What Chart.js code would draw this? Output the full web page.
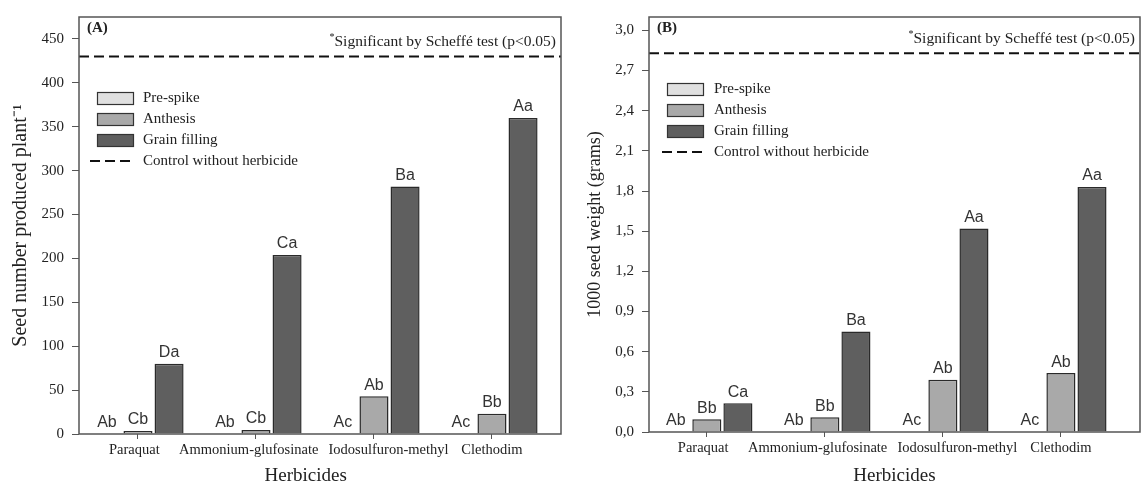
<!DOCTYPE html>
<html>
<head>
<meta charset="utf-8">
<script src="https://cdn.jsdelivr.net/npm/chart.js@4.4.1/dist/chart.umd.min.js"></script>
<style>
  html, body { margin: 0; padding: 0; background: #fff; }
  .panel { position: absolute; top: 0; height: 486px; }
  #wrapA { left: 0; width: 580px; }
  #wrapB { left: 580px; width: 561px; }
</style>
</head>
<body>
<div class="panel" id="wrapA"><canvas id="chartA"></canvas></div>
<div class="panel" id="wrapB"><canvas id="chartB"></canvas></div>
<script>
var herbicides = ['Paraquat', 'Ammonium-glufosinate', 'Iodosulfuron-methyl', 'Clethodim']
var stages = ['Pre-spike', 'Anthesis', 'Grain filling']
var stageColors = ['#e0e0e0', '#a9a9a9', '#5f5f5f']
var controlLabel = 'Control without herbicide'
var sigNote = 'Significant by Scheffé test (p<0.05)'

// (A) seed number per plant
var seedPreSpike = [0, 0, 0, 0]
var seedAnthesis = [3.5, 4.5, 43, 23]
var seedGrainFilling = [80, 204, 282, 360]
var seedControl = 430
var seedLetters = [['Ab', 'Ab', 'Ac', 'Ac'], ['Cb', 'Cb', 'Ab', 'Bb'], ['Da', 'Ca', 'Ba', 'Aa']]
var seedTicks = [0, 50, 100, 150, 200, 250, 300, 350, 400, 450]

// (B) 1000 seed weight
var weightPreSpike = [0, 0, 0, 0]
var weightAnthesis = [0.095, 0.11, 0.39, 0.44]
var weightGrainFilling = [0.215, 0.75, 1.52, 1.83]
var weightControl = 2.83
var weightLetters = [['Ab', 'Ab', 'Ac', 'Ac'], ['Bb', 'Bb', 'Ab', 'Ab'], ['Ca', 'Ba', 'Aa', 'Aa']]
var weightTicks = [0, 0.3, 0.6, 0.9, 1.2, 1.5, 1.8, 2.1, 2.4, 2.7, 3.0]

var SERIF = '"Liberation Serif", "Times New Roman", serif'
var SANS = '"Liberation Sans", Arial, sans-serif'
var TEXT = '#222'
var EN = '\u2002'

// the original figure nudges some category labels off their tick; en spaces do the same here
function nudged(i){
  var h = herbicides[i]
  if (i === 0) return h + EN
  if (i === 1) return h + EN + EN
  if (i === 2) return EN + EN + EN + EN + h
  return h
}

function points(values){
  return values.map(function(v, i){ return { x: i, y: v } })
}

// draws frame, control line, letters, legend and panel notes
var extrasPlugin = {
  id: 'extras',
  afterDatasetsDraw: function(chart){
    var o = chart.options.plugins.extras
    var ctx = chart.ctx
    var a = chart.chartArea
    var y = chart.scales.y
    ctx.save()

    // letters above bars
    ctx.font = '16px ' + SANS
    ctx.fillStyle = '#333'
    ctx.textAlign = 'center'
    ctx.textBaseline = 'bottom'
    chart.data.datasets.forEach(function(ds, di){
      chart.getDatasetMeta(di).data.forEach(function(bar, j){
        ctx.fillText(o.letters[di][j], bar.x, bar.y - 3)
      })
    })

    // control line
    var cy = y.getPixelForValue(o.control)
    ctx.strokeStyle = '#111'
    ctx.lineWidth = 2
    ctx.setLineDash([10, 5])
    ctx.beginPath()
    ctx.moveTo(a.left, cy)
    ctx.lineTo(a.right, cy)
    ctx.stroke()

    // legend
    var lg = o.legend
    ctx.font = '15px ' + SERIF
    ctx.textAlign = 'left'
    ctx.textBaseline = 'middle'
    stages.forEach(function(s, i){
      var ry = lg.y + i * 21
      ctx.setLineDash([])
      ctx.lineWidth = 1.2
      ctx.fillStyle = stageColors[i]
      ctx.fillRect(lg.x, ry - 6, 36, 12)
      ctx.strokeStyle = '#333'
      ctx.strokeRect(lg.x + 0.5, ry - 5.5, 36, 12)
      ctx.fillStyle = TEXT
      ctx.fillText(s, lg.tx, ry)
    })
    var ly = lg.y + 3 * 21
    ctx.strokeStyle = '#111'
    ctx.lineWidth = 2
    ctx.setLineDash([10, 5])
    ctx.beginPath()
    ctx.moveTo(lg.lx, ly)
    ctx.lineTo(lg.x + 37, ly)
    ctx.stroke()
    ctx.setLineDash([])
    ctx.fillStyle = TEXT
    ctx.fillText(controlLabel, lg.tx, ly)

    // panel tag and note
    ctx.font = 'bold 15px ' + SERIF
    ctx.fillText(o.tag, a.left + 8, 28)
    ctx.font = '15.5px ' + SERIF
    ctx.textAlign = 'right'
    ctx.textBaseline = 'alphabetic'
    var nx = a.right - 5
    ctx.fillText(sigNote, nx, o.noteY)
    var w = ctx.measureText(sigNote).width
    ctx.font = '10px ' + SERIF
    ctx.fillText('*', nx - w, o.noteY - 6)

    // frame
    ctx.strokeStyle = '#555'
    ctx.lineWidth = 1.5
    ctx.strokeRect(a.left, a.top, a.right - a.left, a.bottom - a.top)
    ctx.restore()
  }
}

function buildPanel(id, p){
  var tickFont = { family: SERIF, size: 15 }
  return new Chart(document.getElementById(id), {
    type: 'bar',
    data: {
      datasets: p.series.map(function(vals, i){
        return {
          label: stages[i],
          data: points(vals),
          backgroundColor: stageColors[i],
          borderColor: '#2a2a2a',
          borderWidth: 1.5,
          borderSkipped: 'start',
          categoryPercentage: 0.79,
          barPercentage: 0.935
        }
      })
    },
    options: {
      responsive: true,
      maintainAspectRatio: false,
      animation: false,
      layout: { padding: { left: 0, top: 14, right: p.padRight, bottom: 0 } },
      plugins: {
        legend: { display: false },
        tooltip: { enabled: false },
        extras: { letters: p.letters, control: p.control, legend: p.legend, tag: p.tag, noteY: p.noteY }
      },
      scales: {
        x: {
          type: 'linear',
          min: p.xMin,
          max: p.xMax,
          offset: false,
          afterBuildTicks: function(s){ s.ticks = herbicides.map(function(h, i){ return { value: i } }) },
          afterFit: function(s){ s.height = p.xHeight },
          ticks: {
            autoSkip: false, maxRotation: 0, minRotation: 0, padding: 2,
            color: TEXT, font: { family: SERIF, size: 14.5 },
            callback: function(v){ return nudged(v) }
          },
          grid: { display: true, drawOnChartArea: false, drawTicks: true, tickLength: 5, color: '#555', offset: false },
          border: { display: false },
          title: { display: true, text: p.xTitle, color: TEXT, font: { family: SERIF, size: 19, lineHeight: 1 }, padding: { top: 0, bottom: 0 } }
        },
        y: {
          min: 0,
          max: p.yMax,
          afterBuildTicks: function(s){ s.ticks = p.ticks.map(function(v){ return { value: v } }) },
          afterFit: function(s){ s.width = p.yWidth },
          ticks: { padding: 8, color: TEXT, font: tickFont, callback: p.fmt },
          grid: { display: true, drawOnChartArea: false, drawTicks: true, tickLength: 7, color: '#555' },
          border: { display: false },
          title: { display: true, text: p.yTitle, color: TEXT, font: { family: SERIF, size: p.yTitleSize, lineHeight: 1 }, padding: { top: p.yTitlePad, bottom: 0 } }
        }
      }
    },
    plugins: [extrasPlugin]
  })
}

buildPanel('chartA', {
  series: [seedPreSpike, seedAnthesis, seedGrainFilling],
  letters: seedLetters,
  control: seedControl,
  ticks: seedTicks,
  yMax: 475,
  xMin: -0.5, xMax: 3.585,
  yWidth: 79, xHeight: 52, padRight: 19,
  xTitle: 'Herbicides' + EN + EN + EN,
  yTitle: 'Seed number produced plant\u207B\u00B9',
  yTitleSize: 20,
  yTitlePad: 11,
  fmt: function(v){ return String(v) },
  legend: { x: 97, y: 98, tx: 143, lx: 90 },
  tag: '(A)', noteY: 46
})

buildPanel('chartB', {
  series: [weightPreSpike, weightAnthesis, weightGrainFilling],
  letters: weightLetters,
  control: weightControl,
  ticks: weightTicks,
  yMax: 3.1,
  xMin: -0.49, xMax: 3.67,
  yWidth: 69, xHeight: 54, padRight: 1,
  xTitle: 'Herbicides',
  yTitle: '1000 seed weight (grams)',
  yTitleSize: 18,
  yTitlePad: 6,
  fmt: function(v){ return v.toFixed(1).replace('.', ',') },
  legend: { x: 87, y: 89, tx: 134, lx: 82 },
  tag: '(B)', noteY: 43
})
</script>
</body>
</html>
